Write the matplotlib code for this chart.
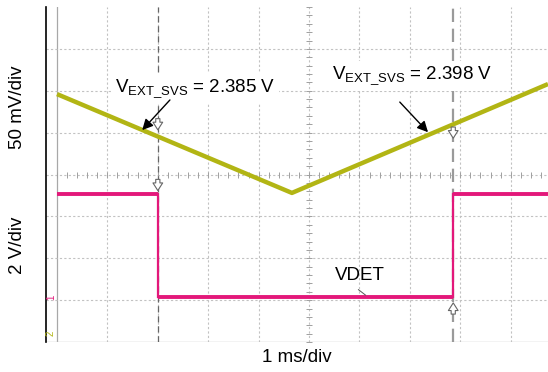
import numpy as np
import matplotlib
matplotlib.use("Agg")
import matplotlib.pyplot as plt

plt.rcParams['font.family'] = ['Liberation Sans', 'DejaVu Sans']
plt.rcParams['mathtext.fontset'] = 'custom'
plt.rcParams['mathtext.rm'] = 'Liberation Sans'

# Screen units are divisions: 1 ms/div across, 8 divisions high
t_ext = [0.0, 4.66, 9.74]          # EXT_SVS ramp corners (div)
v_ext = [5.92, 3.56, 6.16]         # EXT_SVS level (div)
t_det = [0.0, 2.0, 2.0, 7.86, 7.86, 9.74]
v_det = [3.53, 3.53, 1.07, 1.07, 3.53, 3.53]

cursor_t = [2.0, 7.86]
cursor_v = [5.01, 5.13]
cursor_lbl = ["2.385 V", "2.398 V"]

YEL = '#b2b514'
PNK = '#e3187a'

fig = plt.figure(figsize=(5.48, 3.72), dpi=100)
W, H = 548, 372
ax = fig.add_axes([46 / W, (H - 342) / H, (548 - 46) / W, (342 - 7) / H])
ax.set_xlim(-11 / 50.4, 9.74)
ax.set_ylim(0, 8)

# graticule
for gx in range(1, 10):
    ax.axvline(gx, color='#c2c2c2', lw=0.8, ls=(0, (2, 2)), zorder=1)
ax.axvline(0, color='#a8a8a8', lw=0.9, zorder=1)
for gy in range(1, 8):
    ax.axhline(gy, color='#c2c2c2', lw=0.8, ls=(0, (2, 2)), zorder=1)
ax.axhline(0, color='#c4c4c4', lw=1.0, zorder=1)

# minor ticks on the centre lines
mt = np.arange(0, 9.8, 0.2)
ax.plot(mt, np.full_like(mt, 4.0), ls='none', marker='|', ms=4, color='#a0a0a0', mew=0.7, zorder=1)
mv = np.arange(0, 8.01, 0.2)
ax.plot(np.full_like(mv, 5.0), mv, ls='none', marker='_', ms=4, color='#a0a0a0', mew=0.7, zorder=1)

# cursors
ax.axvline(cursor_t[0], color='#666666', lw=0.9, ls=(0, (5, 3)), zorder=2)
ax.axvline(cursor_t[1], color='#9a9a9a', lw=1.6, ls=(0, (6, 3)), zorder=2)

# traces: flat parts thick, edges thin
ax.plot(t_ext, v_ext, color=YEL, lw=3.2, solid_capstyle='butt', zorder=3)
for i in range(0, len(t_det), 2):
    ax.plot(t_det[i:i + 2], v_det[i:i + 2], color=PNK, lw=2.8, solid_capstyle='butt', zorder=3)
for i in range(1, len(t_det) - 1, 2):
    ax.plot(t_det[i:i + 2], v_det[i:i + 2], color=PNK, lw=1.6, zorder=3)

# hollow cursor arrows
arr = dict(arrowstyle='simple,head_width=0.7,head_length=0.55,tail_width=0.3',
           fc='white', ec='#666666', lw=0.8)
for x, y0, y1 in [(2.0, 3.95, 3.55), (2.0, 5.4, 5.0), (7.86, 5.2, 4.8), (7.86, 0.6, 1.0)]:
    ax.annotate('', xy=(x, y1), xytext=(x, y0), arrowprops=arr, zorder=4)

# channel markers
ax.text(-0.12, 1.07, '1', color=PNK, fontsize=7, rotation=90, ha='center', va='center')
ax.text(-0.12, 0.2, '2', color=YEL, fontsize=7, rotation=90, ha='center', va='center')

# cursor readouts
box = dict(boxstyle='square,pad=0.2', fc='white', ec='none')
ax.text(2.74, 6.06, r'V$_{\mathrm{EXT\_SVS}}$ = ' + cursor_lbl[0], fontsize=13.5,
        ha='center', va='center', bbox=box, zorder=5)
ax.text(7.04, 6.35, r'V$_{\mathrm{EXT\_SVS}}$ = ' + cursor_lbl[1], fontsize=13.5,
        ha='center', va='center', bbox=box, zorder=5)
pointer = dict(arrowstyle='-|>', color='black', lw=1.0, mutation_scale=16,
               shrinkA=0, shrinkB=0)
ax.annotate('', xy=(1.69, 5.06), xytext=(2.24, 5.78), arrowprops=pointer, zorder=5)
ax.annotate('', xy=(7.36, 5.01), xytext=(6.8, 5.73), arrowprops=pointer, zorder=5)

ax.text(6.01, 1.6, 'VDET', fontsize=13.5, ha='center', va='center', zorder=5)
ax.plot([5.98, 6.12], [1.25, 1.12], color='#555555', lw=0.7, zorder=4)

# frame
for s in ['top', 'right', 'bottom']:
    ax.spines[s].set_visible(False)
ax.spines['left'].set_color('black')
ax.spines['left'].set_linewidth(1.2)
ax.set_xticks([])
ax.set_yticks([])

fig.text(18 / W, 1 - 107 / H, '50 mV/div', rotation=90, fontsize=13.5, ha='center', va='center')
fig.text(18 / W, 1 - 245 / H, '2 V/div', rotation=90, fontsize=13.5, ha='center', va='center')
fig.text(297 / W, 1 - 357 / H, '1 ms/div', fontsize=13.5, ha='center', va='center')

fig.savefig('out.png', dpi=100)
